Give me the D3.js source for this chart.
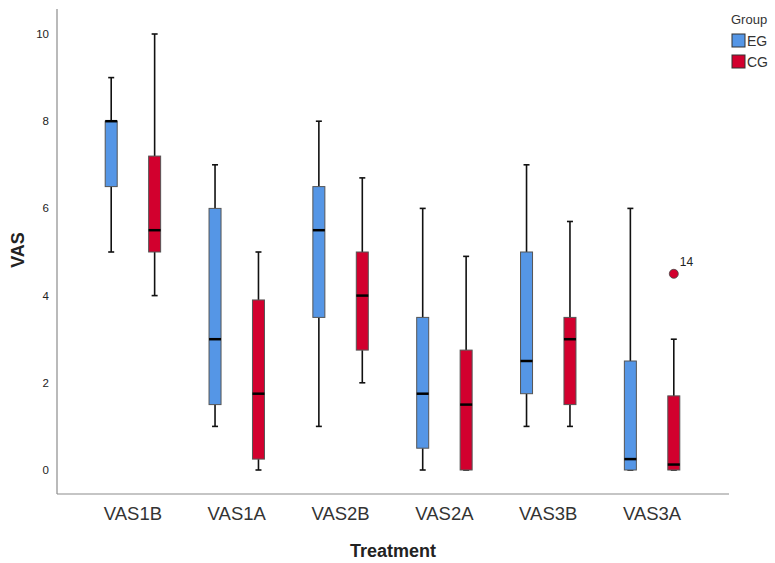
<!DOCTYPE html>
<html lang="en">
<head>
<meta charset="utf-8">
<title>VAS boxplot</title>
<style type="text/css">
  body { margin: 0; background: #fff; }
  text { font-family: "Liberation Sans", Arial, Helvetica, sans-serif; }
</style>
<script type="text/javascript" src="https://cdn.jsdelivr.net/npm/d3@7"></script>
</head>
<body>
<script type="text/javascript">

var w = 775;
var h = 563;

// data
var categories = ['VAS1B', 'VAS1A', 'VAS2B', 'VAS2A', 'VAS3B', 'VAS3A'];
var groups = ['EG', 'CG'];
var yTicks = [0, 2, 4, 6, 8, 10];

// [min, q1, median, q3, max] per category
var statsEG = [
  [5, 6.5, 8, 8, 9],
  [1, 1.5, 3, 6, 7],
  [1, 3.5, 5.5, 6.5, 8],
  [0, 0.5, 1.75, 3.5, 6],
  [1, 1.75, 2.5, 5, 7],
  [0, 0, 0.25, 2.5, 6]
];
var statsCG = [
  [4, 5, 5.5, 7.2, 10],
  [0, 0.25, 1.75, 3.9, 5],
  [2, 2.75, 4, 5, 6.7],
  [0, 0, 1.5, 2.75, 4.9],
  [1, 1.5, 3, 3.5, 5.7],
  [0, 0, 0.125, 1.7, 3]
];
// outliers: category, group, value, case label
var outliers = [
  {cat: 'VAS3A', grp: 'CG', value: 4.5, label: '14'}
];

var colors = {EG: '#5596e6', CG: '#d2002e'};

var svg = d3.select('body').append('svg')
  .attr('width', w)
  .attr('height', h);

var x = d3.scaleBand().domain(categories).range([81, 704]);
var xg = d3.scaleBand().domain(groups).range([-43, 43]).paddingInner(0.02);
var y = d3.scaleLinear().domain([0, 10]).range([470, 34]);

// axes lines
svg.append('line').attr('x1', 57).attr('x2', 57).attr('y1', 9).attr('y2', 494)
  .attr('stroke', '#8c8c8c').attr('stroke-width', 1.2);
svg.append('line').attr('x1', 57).attr('x2', 729).attr('y1', 494).attr('y2', 494)
  .attr('stroke', '#8c8c8c').attr('stroke-width', 1.2);

// y tick labels
svg.selectAll('.ytick').data(yTicks).enter().append('text')
  .attr('class', 'ytick')
  .attr('x', 49)
  .attr('y', function(d){ return y(d); })
  .attr('dy', '0.35em')
  .attr('text-anchor', 'end')
  .attr('font-size', 11.5)
  .attr('fill', '#222')
  .text(function(d){ return d; });

// x tick labels
svg.selectAll('.xtick').data(categories).enter().append('text')
  .attr('class', 'xtick')
  .attr('x', function(d){ return x(d) + x.bandwidth() / 2; })
  .attr('y', 520)
  .attr('text-anchor', 'middle')
  .attr('font-size', 18.5)
  .attr('fill', '#333')
  .text(function(d){ return d; });

// axis titles
svg.append('text')
  .attr('transform', 'translate(24,250) rotate(-90)')
  .attr('text-anchor', 'middle')
  .attr('font-size', 18)
  .attr('font-weight', 'bold')
  .attr('fill', '#222')
  .text('VAS');
svg.append('text')
  .attr('x', 393).attr('y', 557)
  .attr('text-anchor', 'middle')
  .attr('font-size', 18)
  .attr('font-weight', 'bold')
  .attr('fill', '#222')
  .text('Treatment');

// build box rows
var boxes = [];
categories.forEach(function(c, i){
  boxes.push({cat: c, grp: 'EG', s: statsEG[i]});
  boxes.push({cat: c, grp: 'CG', s: statsCG[i]});
});

var boxW = 12;
var capW = 6;

var g = svg.selectAll('.box').data(boxes).enter().append('g')
  .attr('class', 'box')
  .attr('transform', function(d){
    var cx = x(d.cat) + x.bandwidth() / 2 + xg(d.grp) + xg.bandwidth() / 2;
    return 'translate(' + cx + ',0)';
  });

// whiskers
g.append('line')
  .attr('x1', 0).attr('x2', 0)
  .attr('y1', function(d){ return y(d.s[4]); })
  .attr('y2', function(d){ return y(d.s[3]); })
  .attr('stroke', '#111').attr('stroke-width', 1.6);
g.append('line')
  .attr('x1', 0).attr('x2', 0)
  .attr('y1', function(d){ return y(d.s[1]); })
  .attr('y2', function(d){ return y(d.s[0]); })
  .attr('stroke', '#111').attr('stroke-width', 1.6);
// caps
g.append('line')
  .attr('x1', -capW / 2).attr('x2', capW / 2)
  .attr('y1', function(d){ return y(d.s[4]); })
  .attr('y2', function(d){ return y(d.s[4]); })
  .attr('stroke', '#111').attr('stroke-width', 1.6);
g.append('line')
  .attr('x1', -capW / 2).attr('x2', capW / 2)
  .attr('y1', function(d){ return y(d.s[0]); })
  .attr('y2', function(d){ return y(d.s[0]); })
  .attr('stroke', '#111').attr('stroke-width', 1.6);
// box
g.append('rect')
  .attr('x', -boxW / 2)
  .attr('width', boxW)
  .attr('y', function(d){ return y(d.s[3]); })
  .attr('height', function(d){ return y(d.s[1]) - y(d.s[3]); })
  .attr('fill', function(d){ return colors[d.grp]; })
  .attr('stroke', '#555').attr('stroke-width', 1);
// median
g.append('line')
  .attr('x1', -boxW / 2).attr('x2', boxW / 2)
  .attr('y1', function(d){ return y(d.s[2]); })
  .attr('y2', function(d){ return y(d.s[2]); })
  .attr('stroke', '#000').attr('stroke-width', 2.5);

// outliers
var ox = function(d){ return x(d.cat) + x.bandwidth() / 2 + xg(d.grp) + xg.bandwidth() / 2; };
svg.selectAll('.outlier').data(outliers).enter().append('circle')
  .attr('class', 'outlier')
  .attr('cx', ox)
  .attr('cy', function(d){ return y(d.value); })
  .attr('r', 4.5)
  .attr('fill', function(d){ return colors[d.grp]; })
  .attr('stroke', '#444').attr('stroke-width', 0.8);
svg.selectAll('.olabel').data(outliers).enter().append('text')
  .attr('class', 'olabel')
  .attr('x', function(d){ return ox(d) + 6; })
  .attr('y', function(d){ return y(d.value) - 8; })
  .attr('font-size', 12)
  .attr('fill', '#222')
  .text(function(d){ return d.label; });

// legend
svg.append('text').attr('x', 731).attr('y', 24)
  .attr('font-size', 13).attr('fill', '#333').text('Group');
var lg = svg.selectAll('.leg').data(groups).enter().append('g')
  .attr('class', 'leg')
  .attr('transform', function(d, i){ return 'translate(732,' + (34 + i * 21) + ')'; });
lg.append('rect').attr('width', 13).attr('height', 13)
  .attr('fill', function(d){ return colors[d]; })
  .attr('stroke', '#333').attr('stroke-width', 1);
lg.append('text').attr('x', 15).attr('y', 7).attr('dy', '0.35em')
  .attr('font-size', 14).attr('fill', '#333')
  .text(function(d){ return d; });

</script>
</body>
</html>
